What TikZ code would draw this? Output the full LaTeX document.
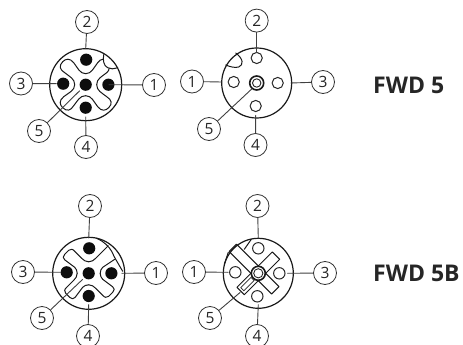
\documentclass[tikz,border=0pt]{standalone}
\usepackage{fontspec}
\setmainfont{Open Sans}
\newcommand{\lobeMale}{(0,-11) .. controls (-6,-11) and (-8,-17) .. (-12,-22) .. controls (-16,-27) and (-20,-26) .. (-23,-23) .. controls (-27,-19) and (-26,-15) .. (-21,-12) .. controls (-16,-8) and (-11,-6) .. (-11,0)}
\newcommand{\lobeMaleB}{(0,-11.5) .. controls (-3,-11.5) and (-5,-13) .. (-7,-15) -- (-14,-22) .. controls (-16,-24.5) and (-18,-24.5) .. (-20,-23) -- (-24,-19) .. controls (-26,-17) and (-26,-15) .. (-24,-13.5) -- (-14,-6) .. controls (-12.5,-4.5) and (-11.5,-2.5) .. (-11.5,0)}
\tikzset{
  x=1pt,y=-1pt,
  lbl/.style={circle,draw=black!80,line width=0.8pt,minimum size=23pt,inner sep=0pt,font=\fontsize{15.5}{16}\selectfont,text=black!85},
  shell/.style={draw=black!90,line width=1.2pt},
  insertline/.style={draw=black!90,line width=1pt,line cap=round,line join=round},
  leader/.style={draw=black!75,line width=0.9pt},
  pinm/.style={fill=black!95},
  hole/.style={draw=black!85,line width=1pt,fill=white},
  title/.style={font=\fontsize{23}{24}\selectfont\bfseries,text=black!85,anchor=west,inner sep=0pt}
}
\begin{document}
\begin{tikzpicture}
\useasboundingbox (0,0) rectangle (463,345);
% ---------- FWD 5 male
\begin{scope}[shift={(85.7,84.7)}]
  \draw[shell] (0,0) circle (36);
  \foreach \r in {0,90,180} \draw[insertline,rotate=\r] \lobeMale;
  \draw[insertline] (0,-11) .. controls (6,-11) and (8,-17) .. (12,-22) .. controls (13.5,-24) and (15,-25.5) .. (17.5,-25.5);
  \draw[insertline] (11,0) .. controls (11,-6) and (16,-8) .. (21,-12) .. controls (22.5,-13) and (23.5,-15) .. (23.5,-16.5);
  \draw[insertline] (18,-30) .. controls (17,-24) and (18,-19) .. (22,-17) .. controls (25,-15) and (28,-16) .. (32,-17);
  \foreach \p in {(0.5,-25),(-22.5,-1),(22.7,0),(0,23),(0,0)} \fill[pinm] \p circle (6.1);
  \coordinate (a1) at (23,0);
  \coordinate (a2) at (0,-36);
  \coordinate (a3) at (-29,-1);
  \coordinate (a4) at (0,32);
  \coordinate (a5) at (-6,6);
\end{scope}
\node[lbl] (la1) at (154,85) {1};
\node[lbl] (la2) at (87,22) {2};
\node[lbl] (la3) at (21,83.5) {3};
\node[lbl] (la4) at (86,147) {4};
\node[lbl] (la5) at (39,131) {5};
\foreach \i in {1,...,5} \draw[leader] (la\i) -- (a\i);
% ---------- FWD 5 female
\begin{scope}[shift={(256.7,83)}]
  \draw[shell] (0,0) circle (35);
  \draw[insertline] (-21,-30) .. controls (-13,-24) and (-13,-18) .. (-18,-16) .. controls (-22,-15) and (-26,-16) .. (-31,-18);
  \foreach \p in {(0,-25),(-23,-1),(21,0),(-1,23)} \draw[hole] \p circle (5.6);
  \draw[draw=black!90,line width=1.6pt] (0,0) circle (7);
  \draw[draw=black!85,line width=0.9pt] (0,0) circle (4.2);
  \coordinate (b1) at (-35,-1);
  \coordinate (b2) at (0,-30);
  \coordinate (b3) at (34,0);
  \coordinate (b4) at (-1,32);
  \coordinate (b5) at (-5,6);
\end{scope}
\node[lbl] (lb1) at (192,81.5) {1};
\node[lbl] (lb2) at (256.7,20.6) {2};
\node[lbl] (lb3) at (323,82) {3};
\node[lbl] (lb4) at (255.5,145) {4};
\node[lbl] (lb5) at (209,129) {5};
\foreach \i in {1,...,5} \draw[leader] (lb\i) -- (b\i);
% ---------- FWD 5B male
\begin{scope}[shift={(88.7,273.3)}]
  \draw[shell] (0,0) circle (36);
  \foreach \r in {0,90,180} \draw[insertline,rotate=\r] \lobeMaleB;
  \draw[insertline] (0,-11.5) .. controls (3,-11.5) and (5,-13) .. (7,-15) -- (19.5,-27.5);
  \draw[insertline] (11.5,0) .. controls (11.5,-2.5) and (12.5,-4.5) .. (14,-6) -- (26,-14);
  \draw[insertline] (8,-35) .. controls (15,-32) and (20,-27) .. (23,-22) .. controls (25,-18) and (26,-15) .. (27,-14) -- (34,-2);
  \foreach \p in {(0.5,-25),(-22,-1),(22.7,0),(0,22.7),(0,0)} \fill[pinm] \p circle (6.1);
  \coordinate (c1) at (33,0);
  \coordinate (c2) at (0,-35);
  \coordinate (c3) at (-28,-1);
  \coordinate (c4) at (0,31);
  \coordinate (c5) at (-6,6);
\end{scope}
\node[lbl] (lc1) at (156,273) {1};
\node[lbl] (lc2) at (90,206) {2};
\node[lbl] (lc3) at (23,272) {3};
\node[lbl] (lc4) at (88,336) {4};
\node[lbl] (lc5) at (42,318) {5};
\foreach \i in {1,...,5} \draw[leader] (lc\i) -- (c\i);
% ---------- FWD 5B female
\begin{scope}[shift={(258.3,273.3)}]
  \draw[shell] (0,0) circle (35);
  \draw[insertline] (-14,-24) -- (-7,-34);
  \draw[insertline] (-30,-21) -- (-34,-9);
  \begin{scope}[rotate=45]
    \draw[insertline] (-5.2,-36) -- (5.2,-36) -- (5.2,-5.2) -- (25,-5.2) -- (25,5.2) -- (5.2,5.2) -- (5.2,24) -- (-5.2,24) -- (-5.2,5.2) -- (-25,5.2) -- (-25,-5.2) -- (-5.2,-5.2) -- cycle;
    \draw[draw=black!85,line width=0.7pt] (-22.5,-2.2) rectangle (-8,2.2);
  \end{scope}
  \foreach \p in {(0,-25),(-23,-1),(21,0),(-1,23)} \draw[hole] \p circle (5.7);
  \draw[fill=white,draw=black!90,line width=1.6pt] (0,0) circle (7);
  \draw[draw=black!85,line width=0.9pt] (0,0) circle (4.6);
  \coordinate (d1) at (-30,-1);
  \coordinate (d2) at (0,-35);
  \coordinate (d3) at (29,0);
  \coordinate (d4) at (0,31);
  \coordinate (d5) at (-18,19);
\end{scope}
\node[lbl] (ld1) at (194,272) {1};
\node[lbl] (ld2) at (257.5,206) {2};
\node[lbl] (ld3) at (325,273) {3};
\node[lbl] (ld4) at (257,336) {4};
\node[lbl] (ld5) at (210,318) {5};
\foreach \i in {1,...,5} \draw[leader] (ld\i) -- (d\i);
% ---------- titles
\node[title] (t1) at (373,85.5) {FWD 5};
\node[title] (t2) at (373,273) {FWD 5B};
\end{tikzpicture}
\end{document}
